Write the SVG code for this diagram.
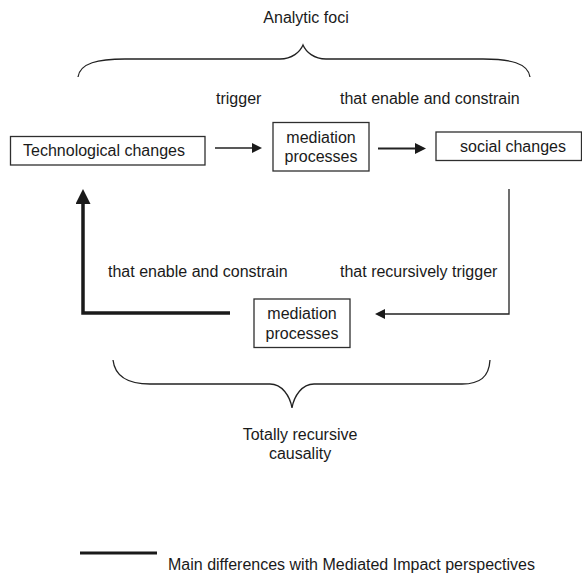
<svg xmlns="http://www.w3.org/2000/svg" width="582" height="574" viewBox="0 0 582 574">
  <defs>
    <style>
      text { font-family: "Liberation Sans", Arial, sans-serif; font-size: 16px; fill: #1a1a1a; }
      .mid { text-anchor: middle; }
      .box { fill: #ffffff; stroke: #2e2e2e; stroke-width: 1.3; }
      .brace { fill: none; stroke: #222222; stroke-width: 1.3; }
      .thin { fill: none; stroke: #222222; stroke-width: 1.3; }
      .medium { fill: none; stroke: #222222; stroke-width: 2.2; }
      .thick { fill: none; stroke: #1a1a1a; stroke-width: 3.5; stroke-linejoin: miter; }
    </style>
    <marker id="head-thin" markerUnits="userSpaceOnUse" viewBox="0 0 10 10" refX="0" refY="5" markerWidth="11" markerHeight="10" orient="auto">
      <path d="M0,0 L10,5 L0,10 z" fill="#1a1a1a"/>
    </marker>
    <marker id="head-medium" markerUnits="userSpaceOnUse" viewBox="0 0 10 10" refX="0" refY="5" markerWidth="12" markerHeight="11" orient="auto">
      <path d="M0,0 L10,5 L0,10 z" fill="#1a1a1a"/>
    </marker>
    <marker id="head-thick" markerUnits="userSpaceOnUse" viewBox="0 0 10 10" refX="0" refY="5" markerWidth="15" markerHeight="15" orient="auto">
      <path d="M0,0 L10,5 L0,10 z" fill="#1a1a1a"/>
    </marker>
  </defs>

  <rect x="0" y="0" width="582" height="574" fill="#ffffff"/>

  <!-- Upper brace: analytic foci -->
  <g id="analytic-foci">
    <text class="mid" x="306" y="23">Analytic foci</text>
    <path class="brace" d="M78,77 C80,63 98,59 125,59 L280,59 C292,59 300,52 303,45 C306,52 314,59 326,59 L483,59 C510,59 528,63 530,77"/>
  </g>

  <!-- Nodes -->
  <g id="technological-changes">
    <rect class="box" x="10.5" y="136.5" width="194.5" height="28.5"/>
    <text class="mid" x="104" y="156">Technological changes</text>
  </g>

  <g id="mediation-top">
    <rect class="box" x="273" y="122.5" width="96" height="48.5"/>
    <text class="mid" x="321" y="143">mediation</text>
    <text class="mid" x="321" y="162">processes</text>
  </g>

  <g id="social-changes">
    <rect class="box" x="436" y="132" width="145.5" height="28.5"/>
    <text class="mid" x="513" y="152">social changes</text>
  </g>

  <g id="mediation-bottom">
    <rect class="box" x="254" y="299" width="96" height="48.5"/>
    <text class="mid" x="302" y="319">mediation</text>
    <text class="mid" x="302" y="339">processes</text>
  </g>

  <!-- Connectors -->
  <g id="connectors">
    <line class="thin" x1="215" y1="148" x2="252" y2="148" marker-end="url(#head-thin)"/>
    <line class="medium" x1="378" y1="148.5" x2="415" y2="148.5" marker-end="url(#head-medium)"/>
    <path class="thin" d="M509,189 L509,314 L385,314" marker-end="url(#head-thin)"/>
    <path class="thick" d="M230,313 L83,313 L83,204" marker-end="url(#head-thick)"/>
  </g>

  <!-- Connector labels -->
  <g id="labels">
    <text x="216" y="104">trigger</text>
    <text x="340" y="104">that enable and constrain</text>
    <text x="108" y="277">that enable and constrain</text>
    <text x="340" y="277">that recursively trigger</text>
  </g>

  <!-- Lower brace: totally recursive causality -->
  <g id="recursive-causality">
    <path class="brace" d="M113,360 C115,377 128,384 150,384 L270,384 C282,384 290,396 292,408 C294,396 302,384 314,384 L462,384 C480,384 489,377 490,360"/>
    <text class="mid" x="300" y="440">Totally recursive</text>
    <text class="mid" x="300" y="459">causality</text>
  </g>

  <!-- Legend -->
  <g id="legend">
    <line x1="80" y1="553" x2="157" y2="553" stroke="#1a1a1a" stroke-width="3"/>
    <text x="168" y="570">Main differences with Mediated Impact perspectives</text>
  </g>
</svg>
